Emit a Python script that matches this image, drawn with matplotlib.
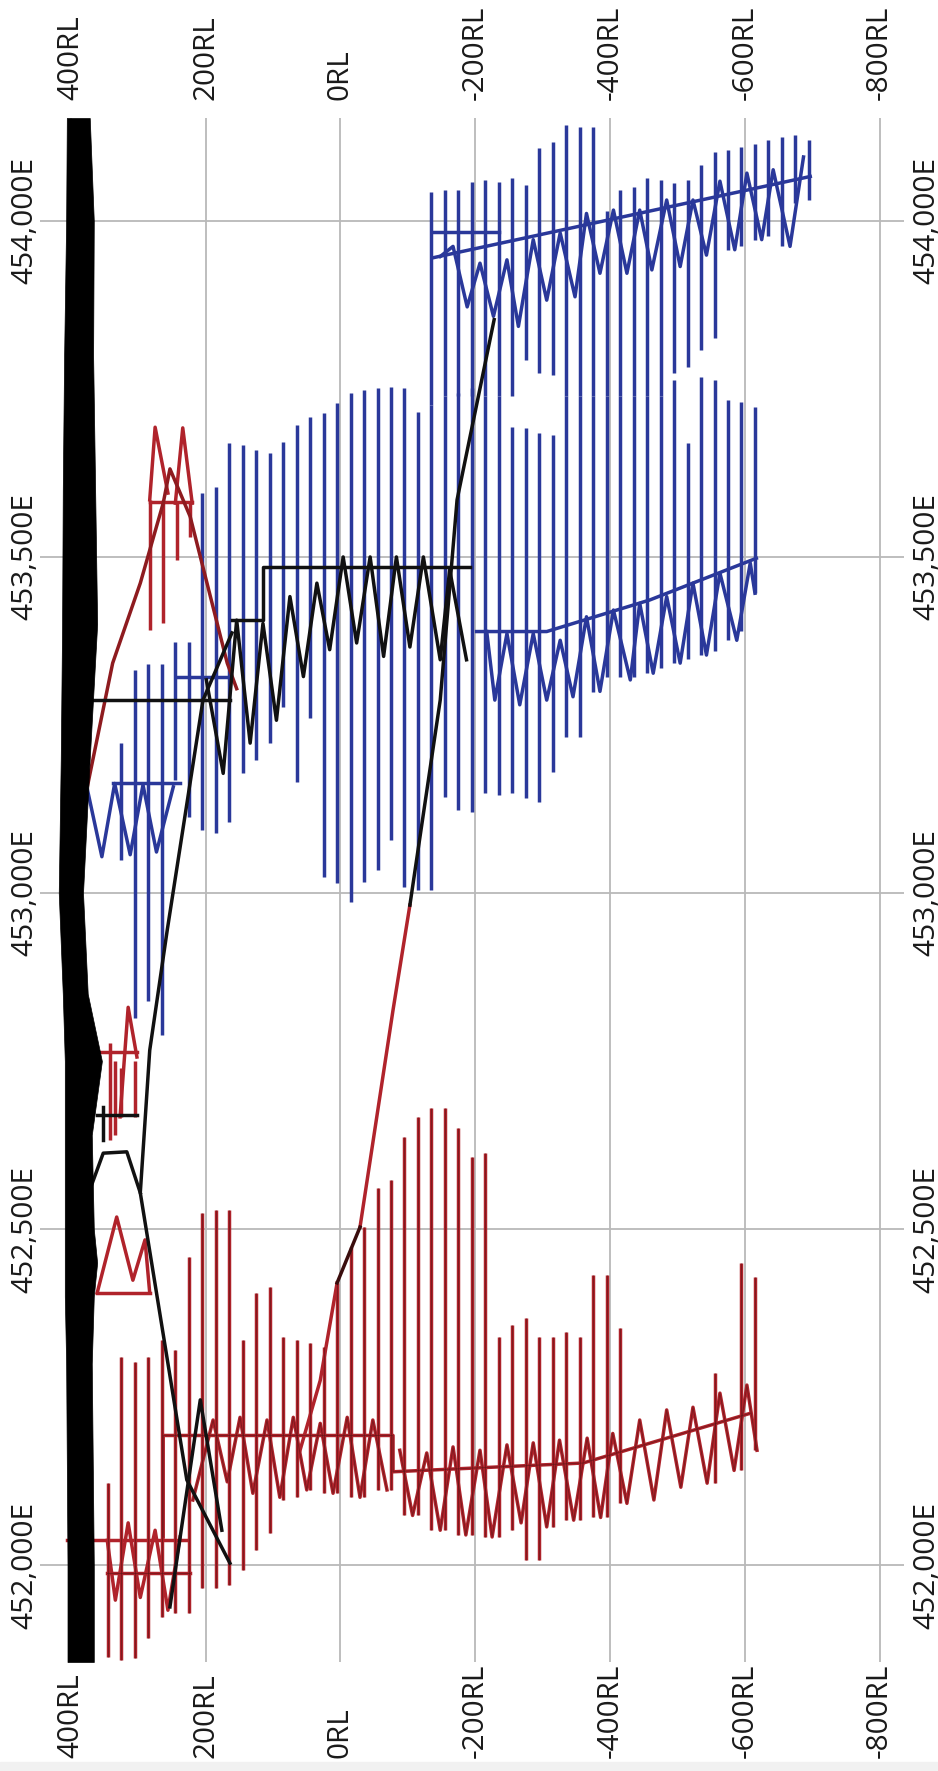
import matplotlib.pyplot as plt
import matplotlib.transforms as mtransforms
from matplotlib.patches import Rectangle

plt.rcParams['font.family'] = ['Open Sans', 'DejaVu Sans']

# colours
BLUE = '#2a389a'
RED = '#b0232b'
CORE = '#5a1215'
DKRED = '#8e1b1f'
BLACK = '#111111'
GRID = '#b9b9b9'

# ---- axes ticks (RL across, Easting up) ----
rl_ticks = [400, 200, 0, -200, -400, -600, -800]
e_ticks = [452000, 452500, 453000, 453500, 454000]

# ---- surface band (black) ----
surf_e = [454153, 454000, 453800, 453600, 453400, 453200, 453000, 452850,
          452750, 452640, 452500, 452450, 452400, 452300, 452000, 451856]
surf_top = [406, 407, 410, 412, 413, 415, 418, 412, 409, 409, 409, 409, 409, 407, 405, 405]
surf_base = [372, 366, 367, 364, 361, 372, 382, 375, 354, 369, 366, 361, 366, 369, 366, 366]

# ---- blue lode: main block of level lines ----
bm_rl = [325, 305, 285, 265, 245, 225, 205, 185, 165, 145, 125, 105, 85, 65, 45, 25,
         5, -15, -35, -55, -75, -95, -115, -135, -155, -175, -195, -215, -235, -255,
         -275, -295, -315, -335, -355]
bm_bot = [453049, 452814, 452840, 452789, 453168, 453113, 453094, 453089, 453106,
          453179, 453198, 453223, 453277, 453165, 453260, 453024, 453015, 452987,
          453016, 453034, 453079, 453009, 453004, 453004, 453143, 453123, 453120,
          453149, 453146, 453149, 453141, 453135, 453180, 453232, 453232]
bm_top = [453223, 453332, 453340, 453340, 453373, 453373, 453595, 453604, 453670,
          453667, 453659, 453655, 453671, 453696, 453708, 453714, 453729, 453744,
          453748, 453751, 453753, 453751, 453716, 453726, 453740, 453744, 453751,
          453740, 453740, 453693, 453692, 453684, 453682, 453740, 453740]

# ---- blue lode: lower (deep) block ----
bl_rl = [-375, -395, -415, -435, -455, -475, -495, -515, -535, -555, -575, -595, -615]
bl_bot = [453299, 453321, 453321, 453321, 453327, 453335, 453342, 453348, 453354,
          453360, 453376, 453390, 453446]
bl_top = [453740, 453740, 453740, 453740, 453740, 453740, 453763, 453670, 453768,
          453763, 453734, 453731, 453723]

# ---- blue lode: northern block ----
bu_rl = [-135, -155, -175, -195, -215, -235, -255, -275, -295, -315, -335, -355, -375,
         -395, -415, -435, -455, -475, -495, -515, -535, -555, -575, -595, -615, -635,
         -655, -675, -695]
bu_top = [454043, 454046, 454046, 454058, 454061, 454058, 454063, 454053, 454108,
          454118, 454143, 454140, 454140, 454014, 454046, 454051, 454063, 454061,
          454056, 454061, 454083, 454103, 454106, 454110, 454115, 454120, 454125,
          454128, 454120]
bu_bot = [453726, 453740, 453740, 453740, 453740, 453740, 453740, 453793, 453774,
          453771, 453740, 453740, 453740, 453740, 453740, 453740, 453740, 453740,
          453774, 453783, 453808, 453825, 453957, 453962, 453972, 453977, 453962,
          454027, 454031]

# blue declines (zig-zag) and access drives
bu_zz_rl = [-148, -167, -188, -207, -227, -247, -264, -286, -306, -326, -348, -365,
            -385, -405, -425, -444, -462, -484, -504, -523, -543, -563, -585, -603,
            -625, -642, -667, -687]
bu_zz_e = [453947, 453962, 453872, 453937, 453858, 453942, 453843, 453972, 453882,
           453982, 453887, 454011, 453922, 454016, 453922, 454016, 453927, 454031,
           453932, 454031, 453949, 454059, 453957, 454071, 453972, 454076, 453962,
           454095]
bu_sp_rl = [-137, -697]
bu_sp_e = [453945, 454066]
bu_acc_rl = [-137, -235]
bu_acc_e = [453983, 453983]

bl_zz_rl = [-217, -229, -247, -266, -286, -306, -326, -345, -365, -385, -405, -430,
            -444, -464, -484, -504, -523, -543, -563, -588, -608, -615]
bl_zz_e = [453389, 453287, 453386, 453280, 453386, 453287, 453376, 453292, 453411,
           453300, 453421, 453317, 453431, 453327, 453441, 453342, 453461, 453354,
           453476, 453376, 453491, 453446]
bl_sp_rl = [-202, -306, -459, -617]
bl_sp_e = [453389, 453389, 453436, 453498]

bw_zz_rl = [377, 354, 335, 312, 293, 273, 248]
bw_zz_e = [453161, 453054, 453163, 453057, 453161, 453061, 453158]
bw_h_rl = [337, 238]
bw_h_e = [453163, 453163]
bw_h2_rl = [243, 164]
bw_h2_e = [453321, 453321]

# ---- black development ----
bk_ramp_rl = [164, 228, 297, 283, 257, 204, 161]
bk_ramp_e = [452003, 452127, 452554, 452766, 452945, 453287, 453387]
bk_v_rl = [253, 208, 176]
bk_v_e = [451938, 452246, 452052]
bk_zz_rl = [199, 174, 154, 134, 115, 95, 75, 55, 35, 16, -4, -24, -44, -64, -83,
            -103, -123, -148, -162, -187]
bk_zz_e = [453317, 453178, 453406, 453223, 453401, 453257, 453441, 453322, 453461,
           453362, 453500, 453372, 453500, 453352, 453500, 453366, 453500, 453347,
           453481, 453347]
bk_adit_rl = [400, 164]
bk_adit_e = [453287, 453287]
bk_step_rl = [161, 115, 115, -192]
bk_step_e = [453406, 453406, 453485, 453485]
bk_h_rl = [361, 302]
bk_h_e = [452670, 452670]
bk_tick_rl = [352, 352]
bk_tick_e = [452632, 452682]
bk_cap_rl = [372, 352, 317, 297]
bk_cap_e = [452558, 452613, 452615, 452554]

# long connecting decline: black, then red
lk_blk_rl = [-228, -173, -148, -103]
lk_blk_e = [453853, 453585, 453287, 452982]
lk_red_rl = [-103, -78, -29]
lk_red_e = [452982, 452826, 452503]
lk_dk_rl = [-29, 5]
lk_dk_e = [452503, 452420]
lk_red2_rl = [5, 30, 60]
lk_red2_e = [452420, 452275, 452171]

# ---- red lodes ----
mm_rl = [283, 263, 243, 223]
mm_bot = [453391, 453401, 453495, 453530]
mm_top = [453585, 453585, 453580, 453582]
mm_a1_rl = [283, 275, 256]
mm_a1_e = [453585, 453693, 453595]
mm_a2_rl = [245, 234, 220]
mm_a2_e = [453580, 453692, 453580]
mm_h_rl = [283, 220]
mm_h_e = [453582, 453582]
mm_ramp_rl = [375, 338, 297, 263, 253, 223, 168, 154]
mm_ramp_e = [453161, 453342, 453461, 453580, 453631, 453560, 453342, 453304]

rf_rl = [342, 335, 325, 305]
rf_bot = [452633, 452640, 452667, 452667]
rf_top = [452777, 452750, 452740, 452750]
rf_a_rl = [327, 315, 302]
rf_a_e = [452667, 452830, 452756]
rf_h_rl = [372, 302]
rf_h_e = [452763, 452763]

rg_rl = [361, 332, 308, 290, 283]
rg_e = [452405, 452518, 452424, 452484, 452405]
rg_h_rl = [361, 283]
rg_h_e = [452405, 452405]

lr_rl = [345, 325, 305, 285, 265, 245, 225, 205, 185, 165, 145, 125, 105, 85, 65, 45,
         25, 5, -15, -35, -55, -75, -95, -115, -135, -155, -175, -195, -215, -235,
         -255, -275, -295, -315, -335, -355, -375, -395, -415, -555, -595, -615]
lr_bot = [451863, 451859, 451862, 451891, 451923, 451929, 451929, 451966, 451966,
          451970, 451993, 452022, 452048, 452097, 452101, 452112, 452107, 452107,
          452101, 452101, 452112, 452112, 452074, 452074, 452052, 452052, 452045,
          452045, 452042, 452042, 452052, 452008, 452008, 452057, 452067, 452067,
          452071, 452071, 452092, 452122, 452141, 452171]
lr_top = [452122, 452310, 452302, 452310, 452335, 452320, 452458, 452524, 452528,
          452528, 452335, 452405, 452414, 452339, 452335, 452330, 452324, 452420,
          452473, 452503, 452561, 452573, 452637, 452667, 452680, 452680, 452650,
          452607, 452613, 452339, 452357, 452368, 452339, 452339, 452347, 452339,
          452432, 452432, 452353, 452286, 452449, 452429]

rc_zz_rl = [346, 334, 315, 297, 275, 256, 238]
rc_zz_e = [452037, 451948, 452063, 451952, 452052, 451933, 452042]
rc_h1_rl = [405, 228]
rc_h1_e = [452037, 452037]
rc_h2_rl = [346, 223]
rc_h2_e = [451988, 451988]

ra_sp_rl = [263, 263, -78, -78, -360, -608]
ra_sp_e = [452042, 452193, 452193, 452139, 452152, 452226]
ra_zz_rl = [219, 189, 168, 149, 130, 109, 90, 70, 50, 30, 11, -10, -29, -48, -69]
ra_zz_e = [452097, 452216, 452124, 452220, 452107, 452216, 452101, 452220, 452112,
           452211, 452107, 452220, 452101, 452216, 452112]
rb_zz_rl = [-88, -107, -128, -148, -167, -186, -207, -225, -247, -268, -286, -306,
            -325, -346, -366, -386, -404, -425, -444, -465, -484, -505, -523, -544,
            -563, -584, -603, -618]
rb_zz_e = [452171, 452074, 452167, 452052, 452176, 452045, 452171, 452042, 452179,
           452063, 452182, 452057, 452186, 452067, 452189, 452071, 452196, 452092,
           452216, 452097, 452231, 452116, 452235, 452122, 452256, 452141, 452268,
           452171]

# ---------------------------------------------------------------
W, H = 938, 1771
fig = plt.figure(figsize=(W / 100, H / 100), dpi=100)
# plot frame in pixels: x 40..904, y 118..1662 (from top)
ax = fig.add_axes([40 / W, (H - 1662) / H, 864 / W, 1544 / H])
ax.set_xlim(445.8, -836.1)
ax.set_ylim(451856, 454153)

lw = 2.5

# blue
ax.vlines(bm_rl, bm_bot, bm_top, color=BLUE, lw=lw)
ax.vlines(bl_rl, bl_bot, bl_top, color=BLUE, lw=lw)
ax.vlines(bu_rl, bu_bot, bu_top, color=BLUE, lw=lw)
for xs, ys in [(bu_zz_rl, bu_zz_e), (bu_sp_rl, bu_sp_e), (bu_acc_rl, bu_acc_e),
               (bl_zz_rl, bl_zz_e), (bl_sp_rl, bl_sp_e), (bw_zz_rl, bw_zz_e),
               (bw_h_rl, bw_h_e), (bw_h2_rl, bw_h2_e)]:
    ax.plot(xs, ys, color=BLUE, lw=lw)

# red (red outline with a dark core, as in the scanned section)
red_v = [(lr_rl, lr_bot, lr_top), (mm_rl, mm_bot, mm_top), (rf_rl, rf_bot, rf_top)]
red_p = [(mm_a1_rl, mm_a1_e), (mm_a2_rl, mm_a2_e), (mm_h_rl, mm_h_e),
         (rf_a_rl, rf_a_e), (rf_h_rl, rf_h_e), (rg_rl, rg_e), (rg_h_rl, rg_h_e),
         (rc_zz_rl, rc_zz_e), (rc_h1_rl, rc_h1_e), (rc_h2_rl, rc_h2_e),
         (ra_sp_rl, ra_sp_e), (ra_zz_rl, ra_zz_e), (rb_zz_rl, rb_zz_e),
         (lk_red_rl, lk_red_e), (lk_red2_rl, lk_red2_e)]
for xs, lo, hi in red_v:
    ax.vlines(xs, lo, hi, color=RED, lw=lw)
for xs, ys in red_p:
    ax.plot(xs, ys, color=RED, lw=lw)
for xs, lo, hi in red_v[:1]:
    ax.vlines(xs, lo, hi, color=CORE, lw=0.8, alpha=0.55)
for xs, ys in red_p[9:13]:
    ax.plot(xs, ys, color=CORE, lw=0.8, alpha=0.55)
ax.plot(mm_ramp_rl, mm_ramp_e, color=DKRED, lw=lw)
ax.plot(lk_dk_rl, lk_dk_e, color='#3a0d0d', lw=lw)

# black
for xs, ys in [(bk_ramp_rl, bk_ramp_e), (bk_v_rl, bk_v_e), (bk_zz_rl, bk_zz_e),
               (bk_adit_rl, bk_adit_e), (bk_step_rl, bk_step_e), (bk_h_rl, bk_h_e),
               (bk_tick_rl, bk_tick_e), (bk_cap_rl, bk_cap_e), (lk_blk_rl, lk_blk_e)]:
    ax.plot(xs, ys, color=BLACK, lw=lw)

ax.fill_betweenx(surf_e, surf_base, surf_top, color='black', lw=0.5, zorder=3)

# grid
ax.set_xticks(rl_ticks)
ax.set_yticks(e_ticks)
ax.grid(color=GRID, lw=1.3)
ax.set_axisbelow(True)
ax.tick_params(length=0, labelbottom=False, labelleft=False)
for s in ax.spines.values():
    s.set_visible(False)

# tick labels, written on all four sides (text reads bottom to top)
tx = mtransforms.blended_transform_factory(ax.transData, ax.transAxes)
ty = mtransforms.blended_transform_factory(ax.transAxes, ax.transData)
kw = dict(rotation=90, fontsize=21, color='#1a1a1a')
rl_lbls, e_lbls = [], []
for v in rl_ticks:
    rl_lbls.append(ax.text(v, 1 + 18 / 1544, f'{v}RL', transform=tx,
                           ha='center', va='bottom', **kw))
    rl_lbls.append(ax.text(v, -96 / 1544, f'{v}RL', transform=tx,
                           ha='center', va='bottom', **kw))
for v in e_ticks:
    e_lbls.append(ax.text(-1 / 864, v, f'{v:,}E', transform=ty,
                          ha='right', va='center', **kw))
    e_lbls.append(ax.text(1 + 8 / 864, v, f'{v:,}E', transform=ty,
                          ha='left', va='center', **kw))

# size the labels to the lengths measured on the original
fig.canvas.draw()
r = fig.canvas.get_renderer()
k_rl = 85 / rl_lbls[0].get_window_extent(r).height
k_e = 127 / e_lbls[0].get_window_extent(r).height
for t in rl_lbls:
    t.set_fontsize(21 * k_rl)
for t in e_lbls:
    t.set_fontsize(21 * k_e)

fig.patches.append(Rectangle((0, 0), 1, 9 / H, transform=fig.transFigure,
                             color='#f1f1f1', zorder=0))

fig.savefig('out.png', dpi=100)
